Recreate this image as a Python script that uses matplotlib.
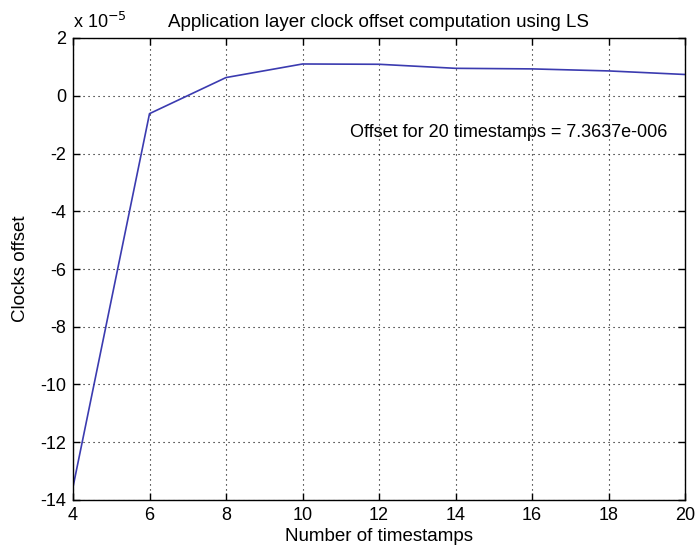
import matplotlib
matplotlib.use("Agg")
import matplotlib.pyplot as plt
import numpy as np
from matplotlib.ticker import FuncFormatter

timestamps = [4, 6, 8, 10, 12, 14, 16, 18, 20]
offset_e5 = [-13.55, -0.62, 0.63, 1.10, 1.09, 0.95, 0.93, 0.86, 0.73637]
offset = np.array(offset_e5) * 1e-5

title = "Application layer clock offset computation using LS"
xlabel = "Number of timestamps"
ylabel = "Clocks offset"
note = "Offset for 20 timestamps = 7.3637e-006"
xticks = [4, 6, 8, 10, 12, 14, 16, 18, 20]
yticks_e5 = [-14, -12, -10, -8, -6, -4, -2, 0, 2]

plt.rcParams['font.family'] = ['Liberation Sans', 'DejaVu Sans']
fig = plt.figure(figsize=(6.96, 5.5), dpi=100)
ax = fig.add_axes([73/696, 50/550, 612/696, 462/550])

ax.plot(timestamps, offset, color='#3b3bb0', linewidth=1.2)
ax.set_xlim(4, 20)
ax.set_ylim(-14e-5, 2e-5)
ax.set_xticks(xticks)
ax.set_yticks(np.array(yticks_e5) * 1e-5)
ax.yaxis.set_major_formatter(FuncFormatter(lambda v, p: f"{round(v*1e5):d}"))
ax.tick_params(direction='in', top=True, right=True, length=5, width=1,
               labelsize=13, pad=5, colors='black')
ax.grid(True, color='black', linestyle=(0, (1, 3.5)), linewidth=0.8)
for s in ax.spines.values():
    s.set_linewidth(1.0)
    s.set_color('black')

ax.set_title(title, fontsize=13.5, pad=8)
ax.set_xlabel(xlabel, fontsize=13.5, labelpad=3)
ax.set_ylabel(ylabel, fontsize=13.5, labelpad=8)
ax.text(0.0, 1.012, r"x 10$^{-5}$", transform=ax.transAxes, fontsize=13,
        ha='left', va='bottom')
ax.text(11.24, -1.28e-5, note, fontsize=13, ha='left', va='center')

fig.savefig("out.png", dpi=100)
